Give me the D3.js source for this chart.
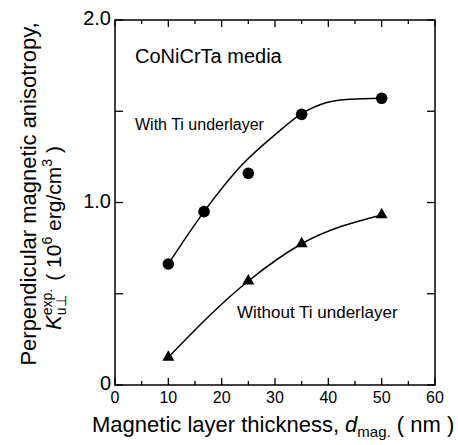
<!DOCTYPE html>
<html>
<head>
<meta charset="utf-8">
<script src="https://cdn.jsdelivr.net/npm/d3@7"></script>
<style>
	body { margin: 0; background: #fff; }
	text { font-family: "Liberation Sans", Arial, sans-serif; fill: #000; white-space: pre; }
</style>
</head>
<body>
<div id="chart"></div>
<script>
// values
const withTi = [[10, 0.663], [16.7, 0.95], [25, 1.16], [35, 1.483], [50, 1.571]]
const withTiFit = [[10, 0.663], [16.7, 0.95], [24, 1.212], [30.3, 1.379], [35, 1.487], [39.7, 1.548], [44, 1.566], [50, 1.571]]
const withoutTi = [[10, 0.152], [25, 0.57], [35, 0.774], [50, 0.932]]
const xTicks = [0, 10, 20, 30, 40, 50, 60]
const xMinor = [5, 15, 25, 35, 45, 55]
const yTicks = [0, 0.5, 1.0, 1.5, 2.0]
const yLabels = [[0, "0"], [1.0, "1.0"], [2.0, "2.0"]]

const params = {
	width: 458, height: 445,
	left: 115, right: 435, top: 20, bottom: 385
}

const svg = d3.select("#chart").append("svg")
	.attr("width", params.width)
	.attr("height", params.height)

const xScale = d3.scaleLinear().domain([0, 60]).range([params.left, params.right])
const yScale = d3.scaleLinear().domain([0, 2.0]).range([params.bottom, params.top])

// frame
svg.append("rect")
	.attr("x", params.left).attr("y", params.top)
	.attr("width", params.right - params.left)
	.attr("height", params.bottom - params.top)
	.attr("fill", "none").attr("stroke", "#000").attr("stroke-width", 1.5)

// inward ticks on all four sides
const ticks = svg.append("g").attr("stroke", "#000").attr("stroke-width", 1.3)
const addXTicks = (vals, len) => {
	ticks.append("g").selectAll("line").data(vals).join("line")
		.attr("x1", d => xScale(d)).attr("x2", d => xScale(d))
		.attr("y1", params.bottom).attr("y2", params.bottom - len)
	ticks.append("g").selectAll("line").data(vals).join("line")
		.attr("x1", d => xScale(d)).attr("x2", d => xScale(d))
		.attr("y1", params.top).attr("y2", params.top + len)
}
addXTicks(xTicks, 7)
addXTicks(xMinor, 4)
ticks.append("g").selectAll("line").data(yTicks).join("line")
	.attr("x1", params.left).attr("x2", params.left + 8)
	.attr("y1", d => yScale(d)).attr("y2", d => yScale(d))
ticks.append("g").selectAll("line").data(yTicks).join("line")
	.attr("x1", params.right).attr("x2", params.right - 8)
	.attr("y1", d => yScale(d)).attr("y2", d => yScale(d))

// tick labels
svg.append("g").selectAll("text").data(xTicks).join("text")
	.attr("x", d => xScale(d)).attr("y", 403)
	.attr("text-anchor", "middle").attr("font-size", 16)
	.text(d => d)

svg.append("g").selectAll("text").data(yLabels).join("text")
	.attr("x", 111).attr("y", d => yScale(d[0]) + 5)
	.attr("text-anchor", "end").attr("font-size", 20)
	.text(d => d[1])

// curves
const line = d3.line()
	.x(d => xScale(d[0]))
	.y(d => yScale(d[1]))
	.curve(d3.curveMonotoneX)

svg.append("path").attr("d", line(withTiFit))
	.attr("fill", "none").attr("stroke", "#000").attr("stroke-width", 1.5)
svg.append("path").attr("d", line(withoutTi))
	.attr("fill", "none").attr("stroke", "#000").attr("stroke-width", 1.5)

// markers
svg.append("g").selectAll("circle").data(withTi).join("circle")
	.attr("cx", d => xScale(d[0])).attr("cy", d => yScale(d[1]))
	.attr("r", 5.8).attr("fill", "#000")

const tri = d3.symbol().type(d3.symbolTriangle).size(62)
svg.append("g").selectAll("path").data(withoutTi).join("path")
	.attr("d", tri)
	.attr("transform", d => `translate(${xScale(d[0])}, ${yScale(d[1])})`)
	.attr("fill", "#000")

// annotations
svg.append("text").attr("x", 135).attr("y", 63).attr("font-size", 20).text("CoNiCrTa media")
svg.append("text").attr("x", 135).attr("y", 130).attr("font-size", 16).text("With Ti underlayer")
svg.append("text").attr("x", 237).attr("y", 318).attr("font-size", 17).text("Without Ti underlayer")

// x axis title
const xTitle = svg.append("text").attr("x", 92).attr("y", 432).attr("font-size", 22)
xTitle.append("tspan").text("Magnetic layer thickness, ")
xTitle.append("tspan").attr("font-style", "italic").text("d")
xTitle.append("tspan").attr("font-size", 15).attr("dy", 5).text("mag.")
xTitle.append("tspan").attr("dy", -5).text(" ( nm )")

// y axis title, line 1
svg.append("text")
	.attr("transform", "translate(36, 194) rotate(-90)")
	.attr("text-anchor", "middle").attr("font-size", 22)
	.text("Perpendicular magnetic anisotropy,")

// y axis title, line 2: built piece by piece so sub/superscripts can stack
const yl2 = svg.append("g")
const inner = yl2.append("g")
let cursor = 0
const piece = (txt, size, dy, opts = {}) => {
	const t = inner.append("text").attr("x", cursor).attr("y", dy)
		.attr("font-size", size).attr("font-style", opts.italic ? "italic" : null)
		.text(txt)
	const w = t.node().getComputedTextLength()
	if (!opts.stay) cursor += w
	return w
}
piece("K", 22, 0, { italic: true })
const wSup = piece("exp.", 14, -9, { stay: true })
const wSub = piece("u\u22a5", 14, 5, { stay: true })
cursor += Math.max(wSup, wSub) + 8
piece("( 10", 21, 0)
piece("6", 14, -9)
piece(" erg/cm", 21, 0)
piece("3", 14, -9)
piece(" )", 21, 0)
inner.attr("transform", `translate(${-cursor / 2}, 0)`)
yl2.attr("transform", "translate(61, 238) rotate(-90)")
</script>
</body>
</html>
